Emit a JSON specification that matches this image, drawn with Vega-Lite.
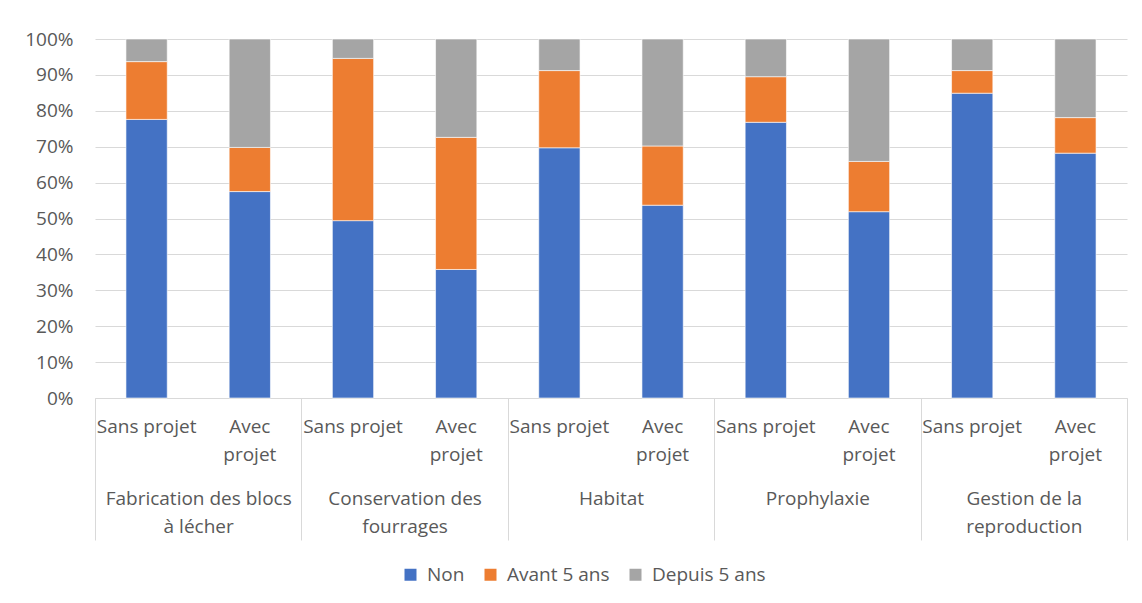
{
  "$schema": "https://vega.github.io/schema/vega-lite/v6.json",
  "autosize": {"type": "none"},
  "width": 1032,
  "height": 359,
  "padding": {"left": 95, "top": 39, "right": 15, "bottom": 205},
  "background": "white",
  "config": {
    "font": "Open Sans",
    "view": {"stroke": null},
    "axis": {"labelColor": "#595959", "labelFontSize": 19, "labelFont": "Open Sans"},
    "legend": {"labelColor": "#595959", "labelFont": "Open Sans"}
  },
  "data": {
    "values": [
      {"group": "Fabrication des blocs|à lécher", "bar": "Fabrication des blocs|Sans projet", "cat": "Non", "v": 77.6},
      {"group": "Fabrication des blocs|à lécher", "bar": "Fabrication des blocs|Sans projet", "cat": "Avant 5 ans", "v": 16.1},
      {"group": "Fabrication des blocs|à lécher", "bar": "Fabrication des blocs|Sans projet", "cat": "Depuis 5 ans", "v": 6.3},
      {"group": "Fabrication des blocs|à lécher", "bar": "Fabrication des blocs|Avec projet", "cat": "Non", "v": 57.5},
      {"group": "Fabrication des blocs|à lécher", "bar": "Fabrication des blocs|Avec projet", "cat": "Avant 5 ans", "v": 12.3},
      {"group": "Fabrication des blocs|à lécher", "bar": "Fabrication des blocs|Avec projet", "cat": "Depuis 5 ans", "v": 30.2},
      {"group": "Conservation des|fourrages", "bar": "Conservation|Sans projet", "cat": "Non", "v": 49.4},
      {"group": "Conservation des|fourrages", "bar": "Conservation|Sans projet", "cat": "Avant 5 ans", "v": 45.2},
      {"group": "Conservation des|fourrages", "bar": "Conservation|Sans projet", "cat": "Depuis 5 ans", "v": 5.4},
      {"group": "Conservation des|fourrages", "bar": "Conservation|Avec projet", "cat": "Non", "v": 35.8},
      {"group": "Conservation des|fourrages", "bar": "Conservation|Avec projet", "cat": "Avant 5 ans", "v": 36.8},
      {"group": "Conservation des|fourrages", "bar": "Conservation|Avec projet", "cat": "Depuis 5 ans", "v": 27.4},
      {"group": "Habitat", "bar": "Habitat|Sans projet", "cat": "Non", "v": 69.7},
      {"group": "Habitat", "bar": "Habitat|Sans projet", "cat": "Avant 5 ans", "v": 21.5},
      {"group": "Habitat", "bar": "Habitat|Sans projet", "cat": "Depuis 5 ans", "v": 8.8},
      {"group": "Habitat", "bar": "Habitat|Avec projet", "cat": "Non", "v": 53.7},
      {"group": "Habitat", "bar": "Habitat|Avec projet", "cat": "Avant 5 ans", "v": 16.5},
      {"group": "Habitat", "bar": "Habitat|Avec projet", "cat": "Depuis 5 ans", "v": 29.8},
      {"group": "Prophylaxie", "bar": "Prophylaxie|Sans projet", "cat": "Non", "v": 76.8},
      {"group": "Prophylaxie", "bar": "Prophylaxie|Sans projet", "cat": "Avant 5 ans", "v": 12.7},
      {"group": "Prophylaxie", "bar": "Prophylaxie|Sans projet", "cat": "Depuis 5 ans", "v": 10.5},
      {"group": "Prophylaxie", "bar": "Prophylaxie|Avec projet", "cat": "Non", "v": 51.9},
      {"group": "Prophylaxie", "bar": "Prophylaxie|Avec projet", "cat": "Avant 5 ans", "v": 14.0},
      {"group": "Prophylaxie", "bar": "Prophylaxie|Avec projet", "cat": "Depuis 5 ans", "v": 34.1},
      {"group": "Gestion de la|reproduction", "bar": "Gestion|Sans projet", "cat": "Non", "v": 84.9},
      {"group": "Gestion de la|reproduction", "bar": "Gestion|Sans projet", "cat": "Avant 5 ans", "v": 6.3},
      {"group": "Gestion de la|reproduction", "bar": "Gestion|Sans projet", "cat": "Depuis 5 ans", "v": 8.8},
      {"group": "Gestion de la|reproduction", "bar": "Gestion|Avec projet", "cat": "Non", "v": 68.2},
      {"group": "Gestion de la|reproduction", "bar": "Gestion|Avec projet", "cat": "Avant 5 ans", "v": 9.9},
      {"group": "Gestion de la|reproduction", "bar": "Gestion|Avec projet", "cat": "Depuis 5 ans", "v": 21.9}
    ]
  },
  "layer": [
    {
      "transform": [
        {"calculate": "indexof(['Non', 'Avant 5 ans', 'Depuis 5 ans'], datum.cat)", "as": "stackRank"}
      ],
      "mark": {"type": "bar", "stroke": "white", "strokeWidth": 0.6},
      "encoding": {
        "x": {
          "field": "bar", "type": "nominal", "sort": null,
          "scale": {"paddingInner": 0.6, "paddingOuter": 0.3},
          "axis": {
            "orient": "bottom", "title": null, "labelAngle": 0,
            "ticks": false, "domain": true, "domainColor": "#d9d9d9", "domainWidth": 1,
            "labelPadding": 19, "labelLineHeight": 28, "labelBaseline": "top",
            "labelOverlap": false, "labelLimit": 300,
            "labelExpr": "split(datum.value, '|')[1] == 'Avec projet' ? ['Avec', 'projet'] : 'Sans projet'"
          }
        },
        "y": {
          "field": "v", "type": "quantitative", "stack": "normalize",
          "scale": {"domain": [0, 1]},
          "axis": {
            "title": null, "format": ".0%", "values": [0, 0.1, 0.2, 0.3, 0.4, 0.5, 0.6, 0.7, 0.8, 0.9, 1],
            "domain": false, "ticks": false, "gridColor": "#d9d9d9", "gridWidth": 1,
            "labelPadding": 22
          }
        },
        "order": {"field": "stackRank", "type": "quantitative", "sort": "ascending"},
        "color": {
          "field": "cat", "type": "nominal",
          "sort": ["Non", "Avant 5 ans", "Depuis 5 ans"],
          "scale": {"domain": ["Non", "Avant 5 ans", "Depuis 5 ans"], "range": ["#4472C4", "#ED7D31", "#A5A5A5"]},
          "legend": {
            "title": null, "orient": "none", "direction": "horizontal",
            "legendX": 306, "legendY": 526,
            "symbolType": "square", "symbolSize": 144, "symbolStrokeWidth": 0,
            "labelFontSize": 19, "labelOffset": 7, "columnPadding": 16
          }
        }
      }
    },
    {
      "mark": {"type": "point", "opacity": 0},
      "encoding": {
        "x": {
          "field": "group", "type": "nominal", "sort": null,
          "scale": {"padding": 0},
          "axis": {
            "orient": "bottom", "title": null, "labelAngle": 0,
            "domain": false, "ticks": true, "tickBand": "extent",
            "tickSize": 142, "tickColor": "#d9d9d9", "tickWidth": 1,
            "labelPadding": -51, "labelLineHeight": 28, "labelBaseline": "top",
            "labelOverlap": false, "labelLimit": 300, "labelBound": false, "labelFlush": false,
            "labelExpr": "datum.value ? split(datum.value, '|') : ''"
          }
        }
      }
    }
  ],
  "resolve": {"scale": {"x": "independent"}, "axis": {"x": "independent"}}
}
